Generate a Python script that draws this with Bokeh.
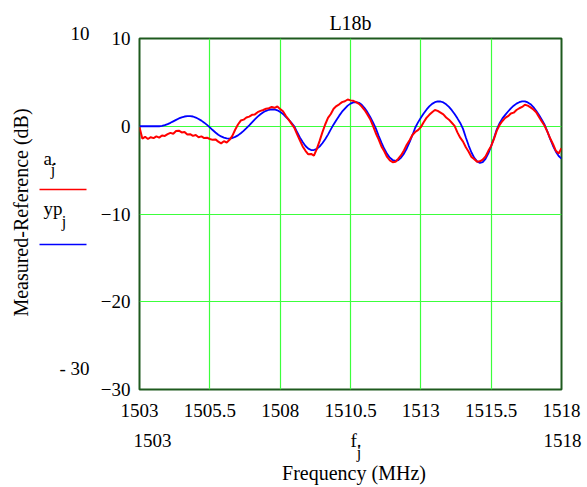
import numpy as np
from bokeh.plotting import figure
from bokeh.layouts import row, column
from bokeh.models import Range1d, FixedTicker
from bokeh.core.properties import value
from bokeh.embed import file_html
from bokeh.resources import INLINE

# ---------------- data ----------------
title_text = "L18b"
freq_start = 1503.0
freq_step = 0.1

# measured - reference (a_j), red
a_vals = [
    -0.1, -1.4, -1.2, -1.45, -1.25, -1.35, -1.15, -1.3, -1.05, -1.1,
    -0.9, -0.75, -0.85, -0.55, -0.5, -0.7, -0.65, -0.95, -0.9, -1.1,
    -1.0, -1.25, -1.15, -1.35, -1.3, -1.45, -1.55, -1.5, -1.75, -1.95,
    -1.7, -1.85, -1.55, -1.1, -0.4, 0.2, 0.65, 0.75, 1.0, 1.1,
    1.3, 1.35, 1.6, 1.75, 1.85, 2.0, 2.05, 2.2, 2.1, 2.25,
    1.95, 1.7, 1.2, 0.75, 0.3, -0.15, -0.9, -1.6, -2.3, -2.8,
    -3.2, -3.15, -3.35, -2.6, -1.7, -0.7, 0.2, 0.95, 1.4, 2.0,
    2.3, 2.5, 2.75, 2.85, 3.05, 2.95, 2.9, 2.75, 2.55, 2.25,
    1.85, 1.35, 0.8, 0.05, -0.8, -1.5, -2.3, -2.85, -3.5, -3.9,
    -4.1, -4.05, -3.7, -3.3, -2.75, -2.1, -1.6, -1.0, -0.65, -0.45,
    -0.1, 0.45, 0.95, 1.3, 1.6, 1.85, 1.75, 1.55, 1.35, 1.0,
    0.75, 0.4, 0.05, -0.7, -1.3, -1.75, -2.4, -2.9, -3.5, -3.75,
    -4.05, -4.0, -3.8, -3.45, -2.8, -2.25, -1.45, -0.5, 0.15, 0.6,
    0.95, 1.15, 1.45, 1.55, 1.85, 2.05, 2.2, 2.45, 2.35, 2.15,
    1.9, 1.6, 1.05, 0.55, 0.05, -0.65, -1.4, -2.05, -2.8, -3.1,
    -2.5,
]

# model (yp_j), blue
yp_vals = [
    0.0, 0.0, 0.0, 0.0, 0.0, 0.0, 0.0, 0.0, 0.04, 0.12,
    0.24, 0.39, 0.56, 0.73, 0.89, 1.02, 1.11, 1.16, 1.16, 1.11,
    0.99, 0.83, 0.64, 0.41, 0.16, -0.12, -0.43, -0.71, -0.96, -1.16,
    -1.30, -1.38, -1.40, -1.34, -1.21, -1.04, -0.80, -0.53, -0.22, 0.11,
    0.45, 0.79, 1.10, 1.37, 1.60, 1.76, 1.88, 1.93, 1.91, 1.82,
    1.64, 1.40, 1.07, 0.77, 0.39, 0.0, -0.66, -1.27, -1.80, -2.25,
    -2.55, -2.71, -2.71, -2.58, -2.32, -1.94, -1.49, -0.95, -0.36, 0.21,
    0.72, 1.21, 1.66, 2.01, 2.35, 2.58, 2.72, 2.76, 2.67, 2.44,
    2.08, 1.61, 1.06, 0.44, -0.25, -1.09, -1.87, -2.57, -3.15, -3.58,
    -3.85, -3.94, -3.85, -3.57, -3.12, -2.53, -1.82, -1.02, -0.17, 0.44,
    0.96, 1.45, 1.89, 2.26, 2.55, 2.74, 2.83, 2.82, 2.71, 2.50,
    2.20, 1.83, 1.39, 0.90, 0.38, -0.30, -1.29, -2.20, -2.99, -3.60,
    -4.00, -4.17, -4.08, -3.72, -3.10, -2.27, -1.35, -0.35, 0.35, 0.90,
    1.30, 1.68, 2.04, 2.34, 2.58, 2.74, 2.83, 2.83, 2.72, 2.51,
    2.18, 1.77, 1.29, 0.74, 0.17, -0.62, -1.47, -2.25, -2.90, -3.39,
    -3.70,
]

x_ticks = [1503, 1505.5, 1508, 1510.5, 1513, 1515.5, 1518]
x_tick_labels = ["1503", "1505.5", "1508", "1510.5", "1513", "1515.5", "1518"]
y_ticks = [10, 0, -10, -20, -30]
y_tick_labels = ["10", "0", "\u221210", "\u221220", "\u221230"]
x_limit_labels = ["1503", "1518"]
y_limit_labels = ["10", "- 30"]
legend_names = ["a.", "yp"]
y_label = "Measured-Reference (dB)"
x_label = "Frequency (MHz)"
x_var = "f."
sub = "j"

freq = freq_start + freq_step * np.arange(len(a_vals))

FONT = "Liberation Serif"
RED = "#FF0000"
BLUE = "#0000FF"

W_LEFT = 96
W_ALL = 583
H_TOP = 430
H_ALL = 486

# ---------------- main plot ----------------
p = figure(width=W_ALL - W_LEFT, height=H_TOP, output_backend="svg", toolbar_location=None,
           x_range=Range1d(1503, 1518), y_range=Range1d(-30, 10),
           min_border_left=43, min_border_right=22, min_border_top=38,
           min_border_bottom=H_TOP - 389)
p.background_fill_color = "white"
p.border_fill_color = "white"
p.outline_line_color = "#1E5A1E"
p.outline_line_width = 2

p.title.text = title_text
p.title.align = "center"
p.title.text_font = FONT
p.title.text_font_size = "20px"
p.title.text_font_style = "normal"
p.title.text_color = "black"
p.title.standoff = 9

p.xaxis.ticker = FixedTicker(ticks=x_ticks)
p.yaxis.ticker = FixedTicker(ticks=y_ticks)
p.xaxis.major_label_overrides = {t: s for t, s in zip(x_ticks, x_tick_labels)}
p.yaxis.major_label_overrides = {t: s for t, s in zip(y_ticks, y_tick_labels)}
for ax in (p.xaxis, p.yaxis):
    ax.axis_line_color = None
    ax.major_tick_line_color = None
    ax.minor_tick_line_color = None
    ax.major_tick_out = 0
    ax.major_tick_in = 0
    ax.minor_tick_out = 0
    ax.minor_tick_in = 0
    ax.major_label_text_font = FONT
    ax.major_label_text_font_size = "19px"
    ax.major_label_text_color = "black"
p.xaxis.major_label_standoff = 14
p.yaxis.major_label_standoff = 9

p.xgrid.ticker = FixedTicker(ticks=x_ticks)
p.ygrid.ticker = FixedTicker(ticks=y_ticks)
p.grid.grid_line_color = "#3CFF3C"
p.grid.grid_line_width = 1.2

p.line(freq, yp_vals, line_color=BLUE, line_width=1.8)
p.line(freq, a_vals, line_color=RED, line_width=2)

# ---------------- helper for pixel-space text strips ----------------
def strip(w, h, x0, y0):
    f = figure(width=w, height=h, output_backend="svg", toolbar_location=None,
               x_range=Range1d(x0, x0 + w), y_range=Range1d(y0 + h, y0),
               x_axis_type=None, y_axis_type=None, min_border=0)
    f.outline_line_color = None
    f.background_fill_color = "white"
    f.border_fill_color = "white"
    return f

def txt(fig, x, y, s, size="19px", align="left", baseline="alphabetic", angle=0.0):
    fig.text(x=[x], y=[y], text=[s], text_font=value(FONT), text_font_size=size,
             text_align=align, text_baseline=baseline, angle=angle, text_color="black")

# left strip: axis title, range labels, legend
left = strip(W_LEFT, H_TOP, 0, 0)
txt(left, 20, 212, y_label, size="20px", align="center", baseline="middle", angle=np.pi / 2)
txt(left, 89, 33, y_limit_labels[0], align="right")
txt(left, 89, 368, y_limit_labels[1], align="right")
txt(left, 43, 158, legend_names[0])
txt(left, 52.5, 169, sub, size="16px", align="center")
left.segment(x0=[39], y0=[189], x1=[86], y1=[189], line_color=RED, line_width=1.5)
txt(left, 43, 208, legend_names[1])
txt(left, 63.5, 221, sub, size="16px", align="center")
left.segment(x0=[39], y0=[244], x1=[86], y1=[244], line_color=BLUE, line_width=1.5)

# bottom strip: range labels, variable name, axis title
bottom = strip(W_ALL, H_ALL - H_TOP, 0, H_TOP)
txt(bottom, 152, 440, x_limit_labels[0], align="center")
txt(bottom, 562, 440, x_limit_labels[1], align="center")
txt(bottom, 350, 440, x_var)
txt(bottom, 358.5, 452, sub, size="16px", align="center")
txt(bottom, 353.5, 472, x_label, size="20px", align="center")

layout = column(row(left, column(p, spacing=0), spacing=0), bottom, spacing=0)
open("out.html", "w").write(file_html(layout, INLINE))
